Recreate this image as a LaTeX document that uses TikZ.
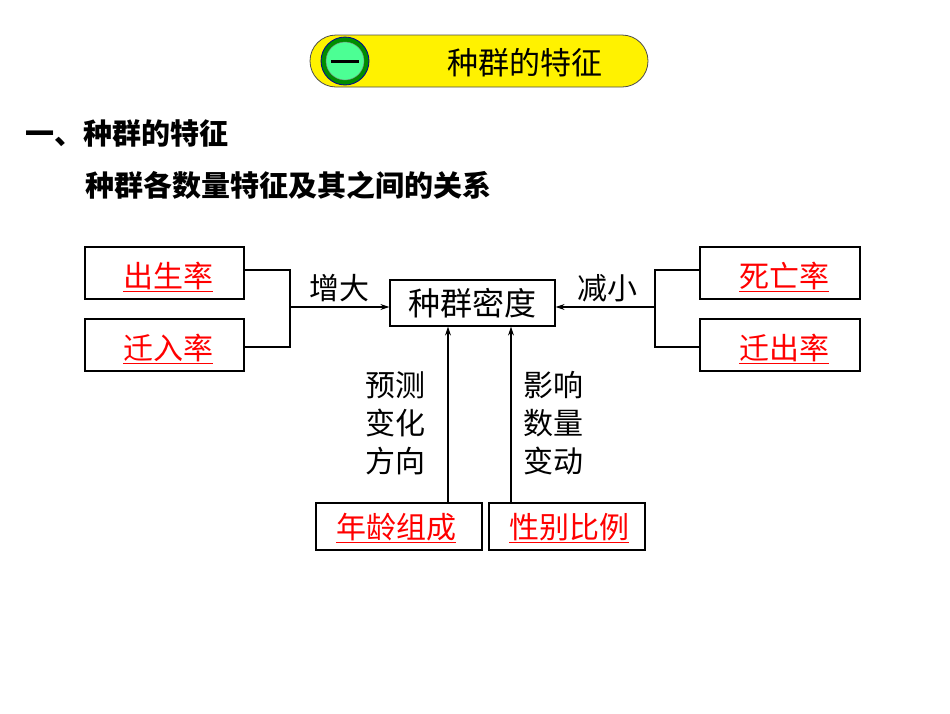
\documentclass[tikz,border=0pt]{standalone}
\usepackage{fontspec}
\setmainfont{Noto Sans CJK SC}
\usetikzlibrary{arrows.meta}
\begin{document}
\begin{tikzpicture}[x=1pt,y=-1pt,
 box/.style={draw,line width=1.2pt,inner sep=0pt},
 red/.style={text=red,font=\fontsize{30}{30}\selectfont},
 lab/.style={font=\fontsize{30}{38}\selectfont,align=center},
 ln/.style={line width=1.2pt},
 arr/.style={line width=1.2pt,-{Stealth[length=9pt,width=6pt]}}]
\useasboundingbox (0,0) rectangle (950,713);
% header
\draw[fill=yellow,draw=black!70,line width=0.8pt,rounded corners=26pt] (310,35) rectangle (648,87);
\node[circle,minimum size=48pt,inner sep=0pt,fill=green!55!black,draw=blue!60!black,line width=0.8pt] (hc) at (345,61) {};
\node[circle,minimum size=38pt,inner sep=0pt,fill=green!60!cyan!70,draw=black!50] (hc2) at (345,61) {};
\draw[line width=3pt] (331,61) -- (359,61);
\node[font=\fontsize{31}{31}\selectfont] (ht) at (525,63) {种群的特征};
\node[anchor=west,font=\fontsize{29}{29}\bfseries\selectfont] (t1) at (22,133) {一、种群的特征};
\node[anchor=west,font=\fontsize{29}{29}\bfseries\selectfont] (t2) at (82,185) {种群各数量特征及其之间的关系};
% boxes
\node[box,minimum width=159pt,minimum height=52pt] (b1) at (164.5,273) {};
\node[red] at (168,277) {\underline{出生率}};
\node[box,minimum width=159pt,minimum height=52pt] (b2) at (164.5,345) {};
\node[red] at (168,349) {\underline{迁入率}};
\node[box,minimum width=160pt,minimum height=52pt] (b3) at (780,273) {};
\node[red] at (784,277) {\underline{死亡率}};
\node[box,minimum width=160pt,minimum height=52pt] (b4) at (780,345) {};
\node[red] at (784,349) {\underline{迁出率}};
\node[box,minimum width=165pt,minimum height=46pt,font=\fontsize{32}{32}\selectfont] (c) at (472.5,303) {种群密度};
\node[box,minimum width=166pt,minimum height=47pt] (a1) at (399,526.5) {};
\node[red] at (396,528) {\underline{年龄组成}};
\node[box,minimum width=156pt,minimum height=47pt] (a2) at (567,526.5) {};
\node[red] at (569,528) {\underline{性别比例}};
% connectors
\coordinate (lj) at (290,307);
\coordinate (rj) at (655,307);
\draw[ln] (b1.east |- 0,270) -| (290,347) -- (b2.east |- 0,347);
\draw[arr] (lj) -- (c.west |- lj);
\draw[ln] (b3.west |- 0,270) -| (655,347) -- (b4.west |- 0,347);
\draw[arr] (rj) -- (c.east |- rj);
\draw[arr] (a1.north -| 448,0) -- (c.south -| 448,0);
\draw[arr] (a2.north -| 511,0) -- (c.south -| 511,0);
\node[lab] (l1) at (339,288) {增大};
\node[lab] (l2) at (607,288) {减小};
\node[lab] (l3) at (395,423) {预测\\变化\\方向};
\node[lab] (l4) at (553,423) {影响\\数量\\变动};
\end{tikzpicture}
\end{document}
